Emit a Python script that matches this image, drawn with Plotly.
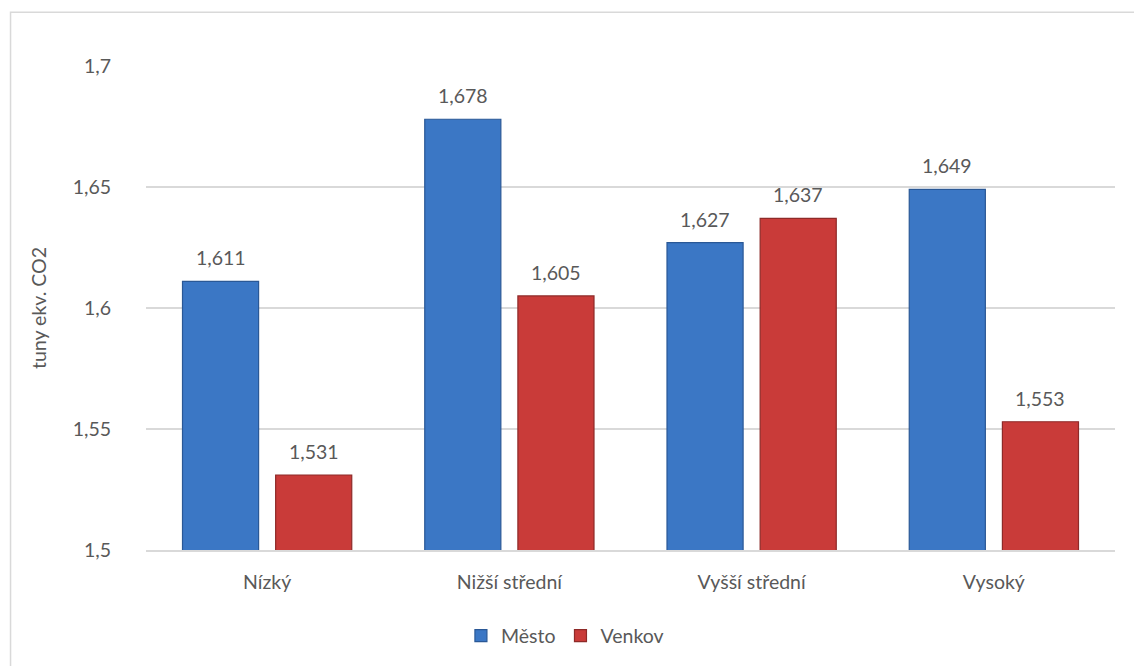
import plotly.graph_objects as go

categories = ["Nízký", "Nižší střední", "Vyšší střední", "Vysoký"]
mesto = [1.611, 1.678, 1.627, 1.649]
venkov = [1.531, 1.605, 1.637, 1.553]
tick_vals = [1.5, 1.55, 1.6, 1.65, 1.7]
tick_text = ["1,5", "1,55", "1,6", "1,65", "1,7"]

FONT = "Lato"
TXT = "#595959"
FS = 19.5

fig = go.Figure()
fig.add_trace(go.Bar(
    name="Město", x=categories, y=mesto,
    marker=dict(color="#3b77c5", line=dict(color="#2a5896", width=1.2)),
))
fig.add_trace(go.Bar(
    name="Venkov", x=categories, y=venkov,
    marker=dict(color="#c93b39", line=dict(color="#8e2a28", width=1.2)),
))

# data labels
for vals, shift in ((mesto, -46.5), (venkov, 46.5)):
    for c, v in zip(categories, vals):
        fig.add_annotation(
            x=c, y=v, xref="x", yref="y", xshift=shift, yshift=10,
            text=f"{v:.3f}".replace(".", ","), showarrow=False,
            yanchor="bottom", font=dict(family=FONT, size=FS, color=TXT),
        )

# chart border (outer frame)
fig.add_shape(type="rect", xref="paper", yref="paper",
              x0=-0.1398, x1=1.03, y0=-0.26, y1=1.111,
              line=dict(color="#d9d9d9", width=1.5), fillcolor="rgba(0,0,0,0)",
              layer="below")

fig.update_layout(
    width=1134, height=666,
    margin=dict(l=146, r=19, t=66, b=115),
    paper_bgcolor="white", plot_bgcolor="white",
    barmode="group", bargap=0.231, bargroupgap=0.183,
    separators=", ",
    font=dict(family=FONT, size=FS, color=TXT),
    showlegend=True,
    legend=dict(orientation="h", x=0.325, xanchor="left", y=-0.135, yanchor="top",
                font=dict(family=FONT, size=FS, color=TXT),
                itemwidth=30, tracegroupgap=0),
    xaxis=dict(showgrid=False, showline=True, linecolor="#d9d9d9", linewidth=1.5,
               ticks="", ticklabelstandoff=14,
               tickfont=dict(family=FONT, size=FS, color=TXT)),
    yaxis=dict(range=[1.5, 1.7], tickvals=tick_vals, ticktext=tick_text,
               showgrid=True, gridcolor="#d9d9d9", gridwidth=1.5,
               zeroline=False, showline=False, ticks="",
               tickfont=dict(family=FONT, size=FS, color=TXT),
               ticklabelstandoff=34,
               title=dict(text="tuny ekv. CO2", standoff=20,
                          font=dict(family=FONT, size=FS, color=TXT))),
)

fig.write_html("out.html")
